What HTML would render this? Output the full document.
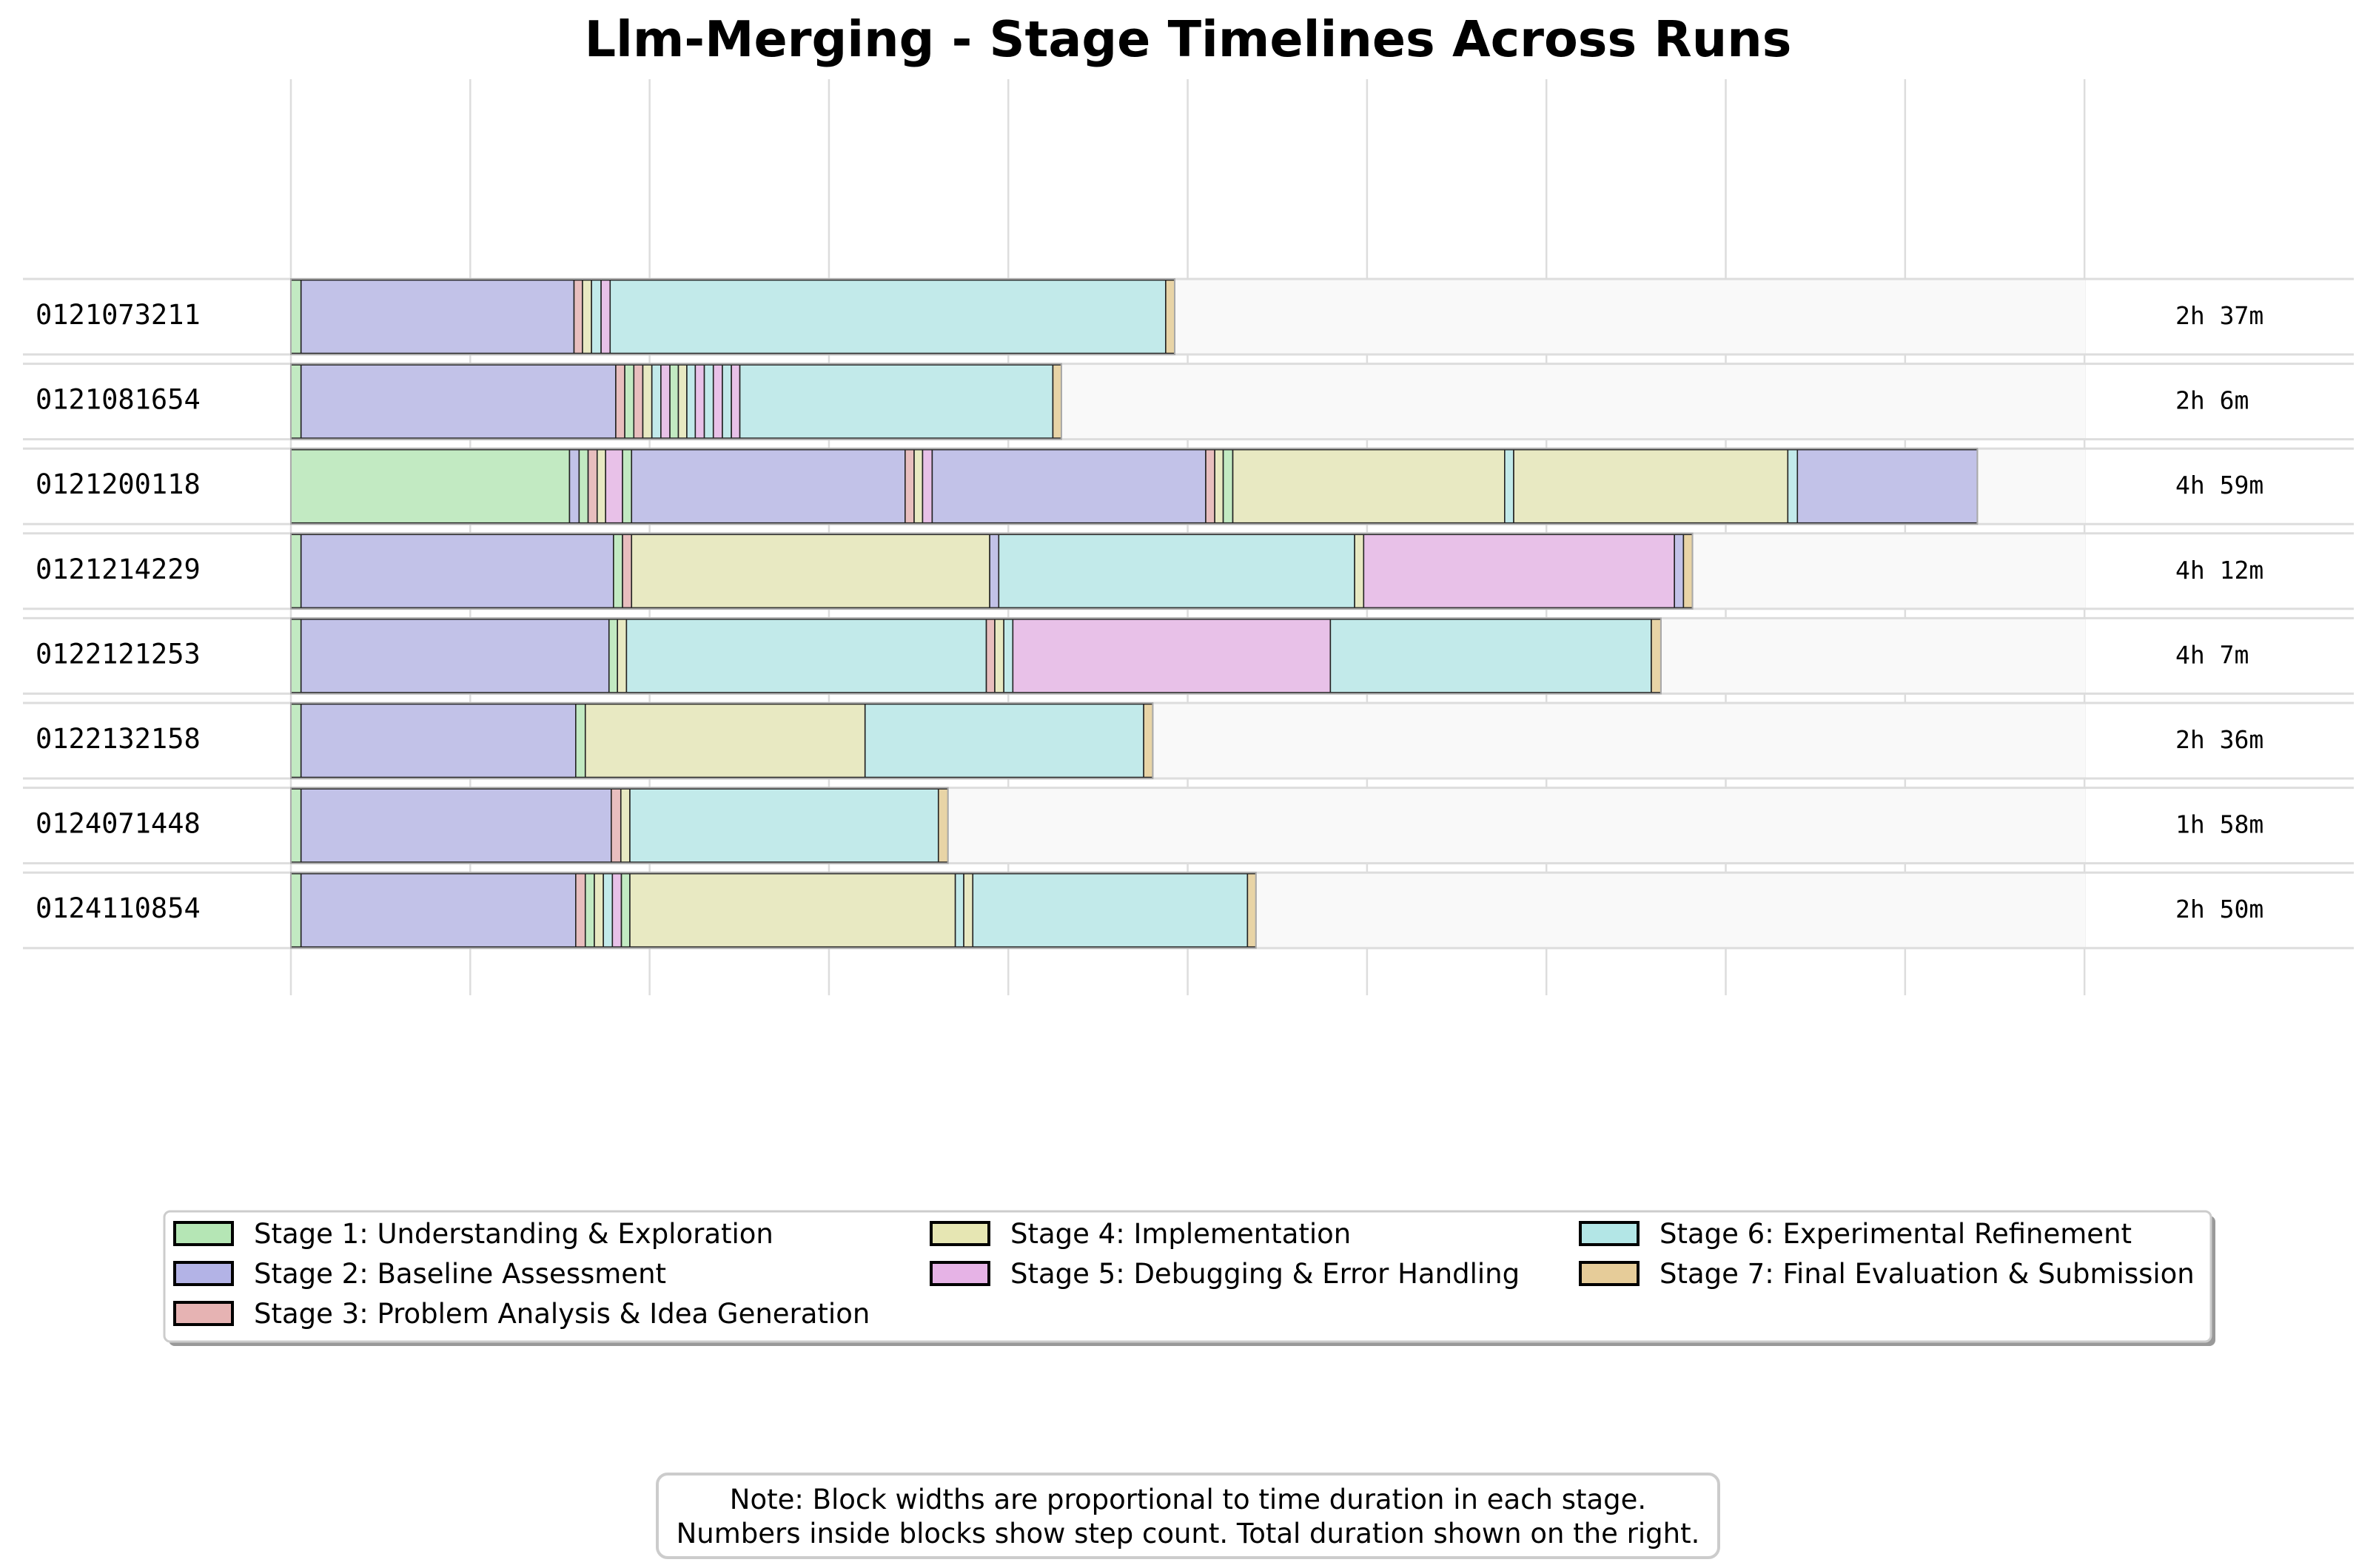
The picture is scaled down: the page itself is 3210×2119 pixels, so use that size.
<!DOCTYPE html>
<html><head><meta charset="utf-8">
<style>
html,body{margin:0;padding:0;background:#fff;}
svg{display:block;}
text{font-family:"DejaVu Sans","Liberation Sans",sans-serif;}
.mono{font-family:"DejaVu Sans Mono","Liberation Mono",monospace;}
</style></head>
<body>
<svg id="chart" xmlns="http://www.w3.org/2000/svg" width="3210" height="2119" viewBox="0 0 3210 2119">
  <rect x="0" y="0" width="3210" height="2119" fill="#ffffff"/>
  <text x="1605" y="76" text-anchor="middle" font-size="66.7" font-weight="bold" fill="#000">Llm-Merging - Stage Timelines Across Runs</text>
  <g id="grid"></g>
  <g id="rows"></g>
  <g>
    <rect x="228" y="1643" width="2765" height="176" rx="8" fill="#999"/>
    <rect x="222" y="1637" width="2765" height="176" rx="8" fill="#fff" stroke="#ccc" stroke-width="3"/>
    <g id="legend-items"></g>
  </g>
  <g>
    <rect x="888" y="1992" width="1434" height="113" rx="14" fill="#fff" stroke="#ccc" stroke-width="4"/>
    <text x="1605" y="2039" text-anchor="middle" font-size="37" fill="#000">Note: Block widths are proportional to time duration in each stage.</text>
    <text x="1605" y="2085" text-anchor="middle" font-size="37" fill="#000">Numbers inside blocks show step count. Total duration shown on the right.</text>
  </g>
</svg>
<script>
const runs = ["0121073211","0121081654","0121200118","0121214229","0122121253","0122132158","0124071448","0124110854"];
const durations = ["2h 37m","2h 6m","4h 59m","4h 12m","4h 7m","2h 36m","1h 58m","2h 50m"];
const stages0 = [1,2,3,4,6,5,6,7];
const mins0   = [1.8,48.4,1.5,1.6,1.7,1.6,98.5,1.6];
const stages1 = [1,2,3,1,3,4,6,5,1,4,6,5,6,5,6,5,6,7];
const mins1   = [1.8,55.8,1.6,1.6,1.6,1.6,1.6,1.6,1.5,1.5,1.5,1.6,1.6,1.6,1.6,1.5,55.5,1.5];
const stages2 = [1,2,1,3,4,5,1,2,3,4,5,2,3,4,1,4,6,4,6,2];
const mins2   = [49.4,1.7,1.6,1.6,1.5,3.0,1.6,48.5,1.6,1.5,1.7,48.5,1.6,1.5,1.7,48.2,1.6,48.6,1.7,31.9];
const stages3 = [1,2,1,3,4,2,6,4,5,2,7];
const mins3   = [1.8,55.4,1.6,1.6,63.5,1.6,63.1,1.6,55.1,1.6,1.6];
const stages4 = [1,2,1,4,6,3,4,6,5,6,7];
const mins4   = [1.8,54.6,1.5,1.6,63.8,1.5,1.6,1.6,56.3,56.9,1.7];
const stages5 = [1,2,1,4,6,7];
const mins5   = [1.8,48.7,1.7,49.6,49.4,1.6];
const stages6 = [1,2,3,4,6,7];
const mins6   = [1.8,55.0,1.7,1.6,54.7,1.7];
const stages7 = [1,2,3,1,4,6,5,1,4,6,4,6,7];
const mins7   = [1.8,48.7,1.7,1.6,1.6,1.6,1.6,1.5,57.7,1.5,1.6,48.7,1.5];
const gridTicks = [0,31.8,63.6,95.4,127.2,159,190.8,222.6,254.4,286.2,318];
const stageNames = ["Stage 1: Understanding & Exploration","Stage 2: Baseline Assessment","Stage 3: Problem Analysis & Idea Generation","Stage 4: Implementation","Stage 5: Debugging & Error Handling","Stage 6: Experimental Refinement","Stage 7: Final Evaluation & Submission"];

const allStages=[stages0,stages1,stages2,stages3,stages4,stages5,stages6,stages7];
const allMins=[mins0,mins1,mins2,mins3,mins4,mins5,mins6,mins7];
const fills={1:"#c2eac2",2:"#c2c2e8",3:"#e8bebe",4:"#e8e9c2",5:"#e8c1e8",6:"#c2eaea",7:"#e8d4a6"};
const legendFills={1:"#b5e6b5",2:"#b3b3e6",3:"#e6b3b3",4:"#e6e6b3",5:"#e6b3e6",6:"#b3e6e6",7:"#e6cc99"};
const NS="http://www.w3.org/2000/svg";
const X0=393, PXM=7.62, ROW0=377, PITCH=114.6, BH=102, BGEND=2817;
function xs(m){return X0+m*PXM;}
function ys(i){return ROW0+i*PITCH;}
function mk(tag,attrs,parent){const e=document.createElementNS(NS,tag);for(const k in attrs)e.setAttribute(k,attrs[k]);parent.appendChild(e);return e;}

const grid=document.getElementById('grid');
gridTicks.forEach(t=>{
  const x=xs(t); if(x>2830) return;
  const l=mk('line',{x1:x,x2:x,y1:107,y2:1345,stroke:"#dddddd","stroke-width":2.5},grid);
  
  
});

const rowsG=document.getElementById('rows');
runs.forEach((r,i)=>{
  const y=ys(i);
  const g=mk('g',{},rowsG);
  
  
  mk('rect',{x:X0,y:y,width:BGEND-X0,height:BH,fill:"#f9f9f9"},g);
  mk('line',{x1:31,x2:3180,y1:y,y2:y,stroke:"#dddddd","stroke-width":3},g);
  mk('line',{x1:31,x2:3180,y1:y+BH,y2:y+BH,stroke:"#dddddd","stroke-width":3},g);
  let acc=0;
  const st=allStages[i], mn=allMins[i];
  st.forEach((s,j)=>{
    const x1=xs(acc), x2=xs(acc+mn[j]);
    const b=mk('rect',{x:x1,y:y+1.5,width:x2-x1,height:BH-3,fill:fills[s],stroke:"#222","stroke-width":1.6},g);
    
    
    acc+=mn[j];
  });
  mk('rect',{x:X0,y:y,width:xs(acc)-X0,height:BH,fill:"none",stroke:"#aaaaaa","stroke-width":2},g);
  const lab=mk('text',{x:48,y:y+61,"font-size":37,fill:"#000",class:"mono"},g);
  lab.textContent=r;
  
  
  const d=mk('text',{x:2939,y:y+61,"font-size":33,fill:"#000",class:"mono"},g);
  d.textContent=durations[i];
  
  
});

const lg=document.getElementById('legend-items');
const colX=[236,1258,2135];
stageNames.forEach((n,k)=>{
  const c = k<3?0:(k<5?1:2);
  const r = k<3?k:(k<5?k-3:k-5);
  const x=colX[c], y=1667+r*54;
  const it=mk('g',{},lg);
  
  
  mk('rect',{x:x,y:y-15,width:78,height:30,fill:legendFills[k+1],stroke:"#000","stroke-width":4},it);
  const t=mk('text',{x:x+107,y:y+13,"font-size":37,fill:"#000"},it);
  t.textContent=n;
});
</script>
</body></html>
